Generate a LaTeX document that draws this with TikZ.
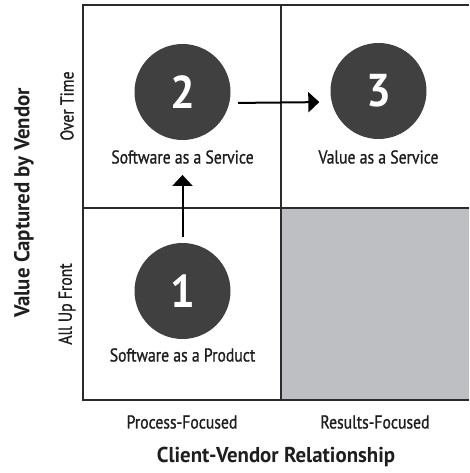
\documentclass[tikz,border=0pt]{standalone}
\usepackage{fontspec}
\setmainfont{PT Sans}[FakeStretch=0.845, FakeBold=1]
\newfontfamily\axfont{PT Sans}[FakeStretch=0.97]
\newfontfamily\digitfont{PT Sans}[FakeStretch=0.95]
\usetikzlibrary{arrows.meta}
\definecolor{circ}{HTML}{404040}
\definecolor{quad}{HTML}{BEBFC3}
\definecolor{ln}{HTML}{2B2B2B}
\definecolor{txt}{HTML}{1E1E1E}
\tikzset{
  numc/.style={circle, fill=circ, minimum size=96pt, inner sep=0pt, text=white,
    font=\digitfont\bfseries\fontsize{46}{46}\selectfont},
  lbl/.style={inner sep=0pt, text=txt, font=\fontsize{18.6}{18.6}\selectfont},
  axl/.style={inner sep=0pt, text=txt, font=\axfont\bfseries\fontsize{21.5}{21.5}\selectfont},
  arr/.style={draw=black, line width=2pt, -{Triangle[length=11pt,width=20pt]}}
}
\begin{document}
\begin{tikzpicture}[x=1pt,y=-1pt]
\useasboundingbox (0,0) rectangle (469,473);
\fill[quad] (281,208) rectangle (469,400);
\draw[ln, line width=1.5pt] (83,208) -- (469,208);
\draw[ln, line width=1.5pt] (281,5) -- (281,400);
\draw[ln, line width=2pt] (469,5) -- (83,5) -- (83,400) -- (469,400);

\node[numc] (c2) at (182.5,92) {2};
\node[numc] (c3) at (378.5,91) {3};
\node[numc] (c1) at (182.5,291) {1};

\node[lbl] (l2) at (182.5,157) {Software as a Service};
\node[lbl] (l3) at (378.5,157) {Value as a Service};
\node[lbl] (l1) at (182.5,355) {Software as a Product};

\draw[arr, shorten <=6pt, shorten >=11pt] (c1.north) -- (c1.north |- l2.south);
\draw[arr, shorten <=7.5pt, shorten >=11pt] ([yshift=-11pt]c2.east) -- ([yshift=-11pt]c3.west);

\node[lbl, rotate=90] (ot) at (67,106) {Over Time};
\node[lbl, rotate=90] (au) at (67,304) {All Up Front};
\node[axl, rotate=90] (vy) at (24,203) {Value Captured by Vendor};
\node[lbl] (pf) at (182,422) {Process-Focused};
\node[lbl] (rf) at (375,422) {Results-Focused};
\node[axl] (cx) at (276,457) {Client-Vendor Relationship};
\end{tikzpicture}
\end{document}
